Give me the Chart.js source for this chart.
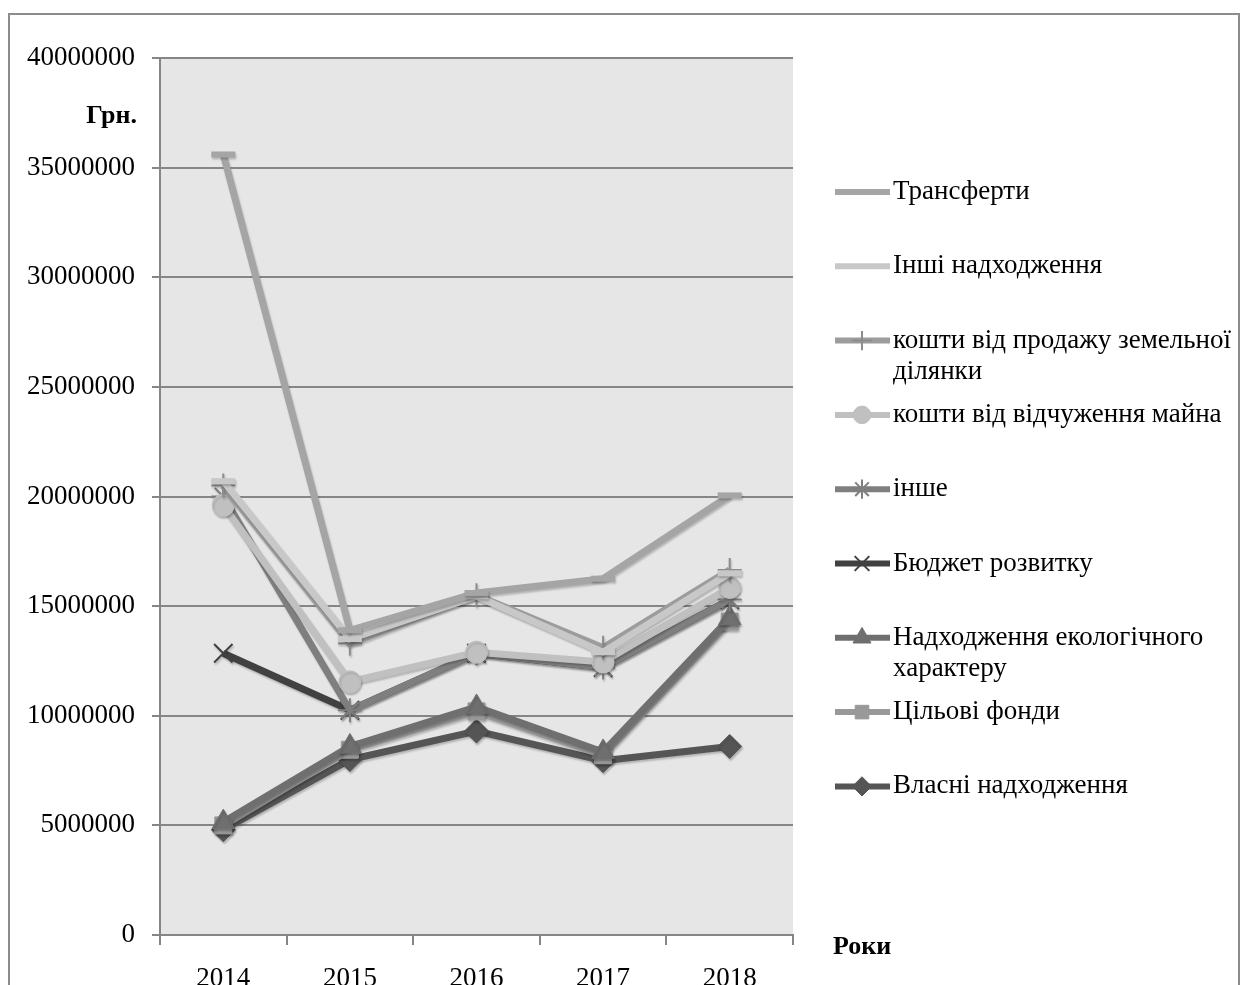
<!DOCTYPE html>
<html>
<head>
<meta charset="utf-8">
<script src="https://cdn.jsdelivr.net/npm/chart.js@4/dist/chart.umd.min.js"></script>
<style>
  html, body { margin: 0; padding: 0; background: #fff; }
  canvas { display: block; }
</style>
</head>
<body>
<canvas id="incomeChart" width="1246" height="985"></canvas>
<script>
// Надходження бюджету за 2014-2018 роки, грн.
let years = ['2014', '2015', '2016', '2017', '2018'];

let transfers    = [35600000, 13900000, 15600000, 16250000, 20050000];
let otherIncome  = [20700000, 13500000, 15450000, 12900000, 16500000];
let landSale     = [20500000, 13300000, 15500000, 13100000, 16650000];
let propertySale = [19600000, 11550000, 12900000, 12450000, 15850000];
let other        = [20000000, 10250000, 12850000, 12200000, 15300000];
let devBudget    = [12850000, 10250000, 12850000, 12200000, 15300000];
let ecoIncome    = [5150000, 8600000, 10400000, 8350000, 14450000];
let targetFunds  = [5000000, 8450000, 10200000, 8200000, 14300000];
let ownIncome    = [4800000, 8000000, 9300000, 7950000, 8600000];

let seriesNames = ['Трансферти', 'Інші надходження', 'кошти від продажу земельної ділянки',
  'кошти від відчуження майна', 'інше', 'Бюджет розвитку',
  'Надходження екологічного характеру', 'Цільові фонди', 'Власні надходження'];

const FONT = '"Liberation Serif", "Times New Roman", serif';

function series(label, data, color, style, radius, markerColor, thin) {
  return {
    label: label,
    data: data,
    borderColor: color,
    borderWidth: 7,
    pointStyle: style,
    pointRadius: radius,
    pointHoverRadius: radius,
    pointBackgroundColor: markerColor,
    pointBorderColor: markerColor,
    pointBorderWidth: thin ? 2 : (style === 'line' ? 6 : 1),
    tension: 0,
    fill: false
  };
}

let datasets = [
  series(seriesNames[0], transfers,    '#a5a5a5', 'line',     12, '#a5a5a5'),
  series(seriesNames[1], otherIncome,  '#c8c8c8', 'line',     12, '#c8c8c8'),
  series(seriesNames[2], landSale,     '#9c9c9c', 'cross',    12, '#8c8c8c', true),
  series(seriesNames[3], propertySale, '#c0c0c0', 'circle',   11, '#c0c0c0'),
  series(seriesNames[4], other,        '#7f7f7f', 'star',     12, '#7f7f7f', true),
  series(seriesNames[5], devBudget,    '#414141', 'crossRot', 13, '#414141', true),
  series(seriesNames[6], ecoIncome,    '#6f6f6f', 'triangle', 13, '#6f6f6f'),
  series(seriesNames[7], targetFunds,  '#999999', 'rect',     12, '#999999'),
  series(seriesNames[8], ownIncome,    '#555555', 'rectRot',  12, '#555555')
];

// сірий фон області побудови і рамка навколо всього
const backdrop = {
  id: 'backdrop',
  beforeDraw(chart) {
    const ctx = chart.ctx, a = chart.chartArea;
    ctx.save();
    ctx.fillStyle = '#fff';
    ctx.fillRect(0, 0, chart.width, chart.height);
    ctx.fillStyle = '#e6e6e6';
    ctx.fillRect(a.left, a.top, a.right - a.left, a.bottom - a.top);
    ctx.strokeStyle = '#8c8c8c';
    ctx.lineWidth = 2;
    ctx.strokeRect(9, 14, 1230, 1000);
    ctx.restore();
  }
};

// легка тінь під лініями
const lineShadow = {
  id: 'lineShadow',
  beforeDatasetsDraw(chart) {
    const ctx = chart.ctx;
    ctx.save();
    ctx.shadowColor = 'rgba(0,0,0,0.22)';
    ctx.shadowBlur = 2;
    ctx.shadowOffsetX = 1;
    ctx.shadowOffsetY = 2;
  },
  afterDatasetsDraw(chart) {
    chart.ctx.restore();
  }
};

// легенда праворуч: відрізок лінії з маркером і підпис
const sideLegend = {
  id: 'sideLegend',
  afterDraw(chart) {
    const ctx = chart.ctx;
    ctx.save();
    ctx.font = '27px ' + FONT;
    ctx.textBaseline = 'middle';
    ctx.fillStyle = '#000';
    chart.data.datasets.forEach((ds, i) => {
      const y = 192 + i * 74.3;
      ctx.strokeStyle = ds.borderColor;
      ctx.lineWidth = 6;
      ctx.beginPath();
      ctx.moveTo(835, y);
      ctx.lineTo(890, y);
      ctx.stroke();
      if (ds.pointStyle !== 'line') {
        ctx.fillStyle = ds.pointBackgroundColor;
        ctx.strokeStyle = ds.pointBorderColor;
        ctx.lineWidth = ds.pointBorderWidth;
        Chart.helpers.drawPoint(ctx, {
          pointStyle: ds.pointStyle,
          radius: ds.pointRadius * 0.8,
          rotation: 0,
          borderWidth: ds.pointBorderWidth
        }, 862, y);
      }
      // перенесення довгих підписів
      ctx.fillStyle = '#000';
      const words = ds.label.split(' ');
      let line = '', row = 0;
      words.forEach(w => {
        const test = line ? line + ' ' + w : w;
        if (ctx.measureText(test).width > 348 && line) {
          ctx.fillText(line, 893, y + row * 31);
          line = w;
          row++;
        } else {
          line = test;
        }
      });
      ctx.fillText(line, 893, y + row * 31);
    });
    // підписи осей
    ctx.font = 'bold 26px ' + FONT;
    ctx.textAlign = 'right';
    ctx.fillText('Грн.', 137, 116);
    ctx.textAlign = 'left';
    ctx.fillText('Роки', 833, 947);
    ctx.restore();
  }
};

new Chart(document.getElementById('incomeChart').getContext('2d'), {
  type: 'line',
  data: { labels: years, datasets: datasets },
  options: {
    responsive: false,
    animation: false,
    layout: { padding: { top: 58, right: 453, left: 0, bottom: 0 } },
    plugins: {
      legend: { display: false },
      tooltip: { enabled: false }
    },
    scales: {
      y: {
        min: 0,
        max: 40000000,
        ticks: {
          stepSize: 5000000,
          padding: 17,
          color: '#000',
          font: { family: FONT, size: 27 },
          callback: v => String(v)
        },
        grid: { color: '#868686', lineWidth: 2, tickLength: 8 },
        border: { display: true, color: '#868686', width: 2 },
        afterFit(scale) { scale.width = 160; }
      },
      x: {
        offset: true,
        ticks: {
          padding: 18,
          color: '#000',
          font: { family: FONT, size: 27 },
          maxRotation: 0
        },
        grid: { offset: true, drawOnChartArea: false, color: '#868686', lineWidth: 2, tickLength: 10 },
        border: { display: true, color: '#868686', width: 2 },
        afterFit(scale) { scale.height = 50; }
      }
    }
  },
  plugins: [backdrop, lineShadow, sideLegend]
});
</script>
</body>
</html>
